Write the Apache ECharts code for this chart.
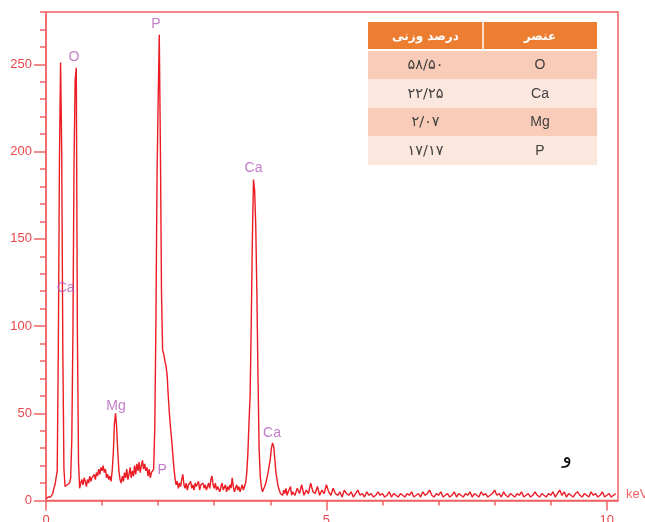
<!DOCTYPE html>
<html>
<head>
<meta charset="utf-8">
<script src="https://cdn.jsdelivr.net/npm/echarts@6/dist/echarts.min.js"></script>
<style>
  html, body { margin: 0; padding: 0; background: #ffffff; }
  #chart { width: 645px; height: 522px; }
</style>
</head>
<body>
<div id="chart"></div>
<script>
// EDS spectrum: counts per channel, 0.00–4.38 keV in 0.02 keV channels
const lowStartKeV = 0;
const lowStepKeV = 0.02;
const lowCounts = [
  1, 1, 2, 1, 2, 2, 4, 7, 9, 13,
  17, 88, 196, 251, 200, 86, 18, 8, 7, 9,
  8, 10, 13, 35, 96, 194, 241, 248, 95, 22,
  7, 10, 12, 9, 13, 11, 8, 12, 10, 14,
  11, 13, 12, 15, 12, 16, 14, 18, 15, 19,
  17, 20, 16, 18, 13, 15, 12, 14, 11, 17,
  27, 44, 50, 42, 28, 17, 12, 10, 14, 11,
  16, 13, 18, 12, 15, 19, 13, 17, 14, 20,
  15, 21, 17, 22, 16, 20, 23, 18, 21, 17,
  19, 14, 18, 13, 16, 15, 18, 42, 102, 186,
  229, 267, 202, 118, 86, 84, 80, 77, 72, 60,
  50, 42, 35, 27, 19, 13, 9, 11, 7, 10,
  8, 12, 15, 9, 7, 10, 6, 9, 8, 11,
  7, 9, 6, 10, 8, 7, 11, 6, 9, 8,
  10, 7, 9, 6, 8, 10, 7, 12, 14, 9,
  7, 10, 6, 8, 9, 5, 8, 10, 6, 7,
  9, 5, 8, 6, 9, 7, 13, 8, 5, 7,
  9, 6, 8, 5, 7, 9, 6, 8, 10, 16,
  27, 45, 60, 101, 150, 184, 178, 158, 120, 72,
  30, 14, 8, 5, 6, 8, 10, 13, 16, 20,
  24, 30, 33, 31, 24, 16, 12, 8, 6, 4,
  5, 3, 6, 4, 7, 3, 5, 4, 8, 3
];

// Background tail, 4.40–10.16 keV in 0.04 keV channels
const highStartKeV = 4.4;
const highStepKeV = 0.04;
const highCounts = [
  5, 3, 7, 4, 9, 3, 6, 4, 10, 5,
  4, 8, 3, 6, 4, 9, 5, 3, 7, 4,
  3, 5, 2, 6, 4, 3, 5, 2, 4, 6,
  3, 4, 2, 5, 3, 4, 2, 3, 5, 3,
  4, 2, 3, 5, 2, 4, 3, 2, 4, 3,
  2, 4, 3, 5, 2, 3, 4, 2, 5, 3,
  4, 6, 3, 2, 4, 3, 5, 2, 3, 4,
  2, 3, 5, 2, 4, 3, 2, 4, 3, 5,
  2, 4, 3, 2, 5, 3, 4, 2, 3, 4,
  6, 3, 4, 2, 5, 3, 2, 4, 3, 2,
  4, 3, 5, 2, 3, 4, 2, 3, 5, 3,
  2, 4, 3, 2, 4, 3, 5, 2, 4, 6,
  3, 5, 2, 4, 3, 2, 4, 5, 3, 2,
  4, 3, 2, 5, 3, 4, 2, 3, 5, 2,
  3, 4, 2, 3, 4
];

// Peak identifications (element, energy in keV, count level of the tag)
const peakNames = ['P', 'O', 'Ca', 'Mg', 'P', 'Ca', 'Ca'];
const peakKeV = [1.96, 0.50, 0.35, 1.25, 2.07, 3.70, 4.03];
const peakTagCounts = [273, 254, 122, 54, 17.5, 190.5, 38.5];

// Axis ticks
const yLabelValues = [0, 50, 100, 150, 200, 250];
const xLabelValues = [0, 5, 10];
const xMinorTickValues = [0, 1, 2, 3, 4, 5, 6, 7, 8, 9, 10];

// Composition table
const tableHeader = ['درصد وزنی', 'عنصر'];
const tableElements = ['O', 'Ca', 'Mg', 'P'];
const tableWeights = ['۵۸/۵۰', '۲۲/۲۵', '۲/۰۷', '۱۷/۱۷'];

const panelLetter = 'و';

// ---------------------------------------------------------------
const spectrum = [];
lowCounts.forEach((c, i) => spectrum.push([+(lowStartKeV + i * lowStepKeV).toFixed(2), c]));
highCounts.forEach((c, i) => spectrum.push([+(highStartKeV + i * highStepKeV).toFixed(2), c]));

const peakTags = peakNames.map((n, i) => [peakKeV[i], peakTagCounts[i], n]);

const AXIS_RED = '#f06363';
const LABEL_RED = '#e8474d';
const LINE_RED = '#ec1c24';
const TAG_PURPLE = '#b35cb9';

// table graphic
const tbl = { left: 368, top: 22, width: 229, split: 483, headH: 27, firstRow: 51, rowH: 28.5 };
const graphics = [];
graphics.push({
  type: 'rect', shape: { x: tbl.left, y: tbl.top, width: tbl.width, height: tbl.headH },
  style: { fill: '#ed7d31' }, silent: true
});
graphics.push({
  type: 'line', shape: { x1: tbl.split, y1: tbl.top, x2: tbl.split, y2: tbl.top + tbl.headH },
  style: { stroke: '#ffffff', lineWidth: 1.5 }, silent: true
});
const colCenters = [(tbl.left + tbl.split) / 2, (tbl.split + tbl.left + tbl.width) / 2];
tableHeader.forEach((h, j) => {
  graphics.push({
    type: 'text', x: colCenters[j], y: tbl.top + tbl.headH / 2 + 1,
    style: { text: h, fill: '#ffffff', font: 'bold 12px "DejaVu Sans"', align: 'center', verticalAlign: 'middle' },
    silent: true
  });
});
tableElements.forEach((el, i) => {
  const y0 = tbl.firstRow + i * tbl.rowH;
  graphics.push({
    type: 'rect', shape: { x: tbl.left, y: y0, width: tbl.width, height: tbl.rowH },
    style: { fill: i % 2 === 0 ? '#f8ccb8' : '#fce7de' }, silent: true
  });
  graphics.push({
    type: 'text', x: colCenters[0], y: y0 + tbl.rowH / 2,
    style: { text: tableWeights[i], fill: '#404040', font: '14.5px "DejaVu Sans"', align: 'center', verticalAlign: 'middle' },
    silent: true
  });
  graphics.push({
    type: 'text', x: colCenters[1], y: y0 + tbl.rowH / 2,
    style: { text: el, fill: '#404040', font: '14px "Liberation Sans"', align: 'center', verticalAlign: 'middle' },
    silent: true
  });
});
graphics.push({
  type: 'text', x: 567, y: 458,
  style: { text: panelLetter, fill: '#111111', font: '20px "DejaVu Sans"', align: 'center', verticalAlign: 'middle' },
  silent: true
});

const chart = echarts.init(document.getElementById('chart'), null, { renderer: 'canvas' });
chart.setOption({
  animation: false,
  backgroundColor: '#ffffff',
  grid: {
    left: 46, right: 27, top: 12, bottom: 21.5,
    outerBoundsMode: 'none',
    show: true, borderColor: AXIS_RED, borderWidth: 1.5, backgroundColor: 'transparent'
  },
  xAxis: [
    {
      type: 'value', min: 0, max: 10.2,
      name: 'keV', nameLocation: 'end', nameGap: 8,
      nameTextStyle: { color: AXIS_RED, fontSize: 13, fontFamily: 'Liberation Sans', align: 'left', verticalAlign: 'bottom' },
      axisLine: { show: true, lineStyle: { color: AXIS_RED, width: 1.5 } },
      axisTick: { show: true, customValues: xMinorTickValues, length: 5, lineStyle: { color: AXIS_RED, width: 1.5 } },
      axisLabel: { show: true, customValues: xLabelValues, margin: 13, color: LABEL_RED, fontSize: 13, fontFamily: 'Liberation Sans' },
      splitLine: { show: false }
    },
    {
      type: 'value', min: 0, max: 10.2, position: 'bottom',
      axisLine: { show: false },
      axisTick: { show: true, customValues: xLabelValues, length: 10, lineStyle: { color: AXIS_RED, width: 1.5 } },
      axisLabel: { show: false },
      splitLine: { show: false }
    }
  ],
  yAxis: [
    {
      type: 'value', min: 0, max: 280, interval: 10,
      axisLine: { show: true, lineStyle: { color: AXIS_RED, width: 1.5 } },
      axisTick: { show: true, length: 6, lineStyle: { color: AXIS_RED, width: 1.5 } },
      axisLabel: { show: true, customValues: yLabelValues, margin: 14, color: LABEL_RED, fontSize: 13, fontFamily: 'Liberation Sans' },
      splitLine: { show: false }
    },
    {
      type: 'value', min: 0, max: 280, position: 'left',
      axisLine: { show: false },
      axisTick: { show: true, customValues: yLabelValues, length: 12, lineStyle: { color: AXIS_RED, width: 1.5 } },
      axisLabel: { show: false },
      splitLine: { show: false }
    }
  ],
  series: [
    {
      type: 'line',
      data: spectrum,
      symbol: 'none',
      lineStyle: { color: LINE_RED, width: 1.4 },
      clip: true,
      silent: true,
      z: 3
    },
    {
      type: 'scatter',
      data: peakTags,
      symbolSize: 1,
      itemStyle: { color: 'rgba(0,0,0,0)' },
      label: {
        show: true, position: 'inside',
        formatter: p => p.data[2],
        color: TAG_PURPLE, fontSize: 14, fontFamily: 'Liberation Sans'
      },
      silent: true,
      z: 4
    }
  ],
  graphic: graphics
});
</script>
</body>
</html>
